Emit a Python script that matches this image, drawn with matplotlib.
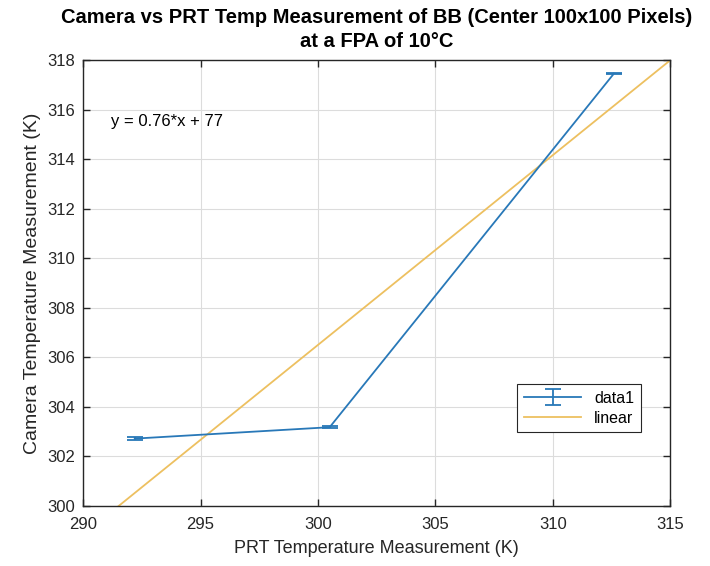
import matplotlib
matplotlib.use("Agg")
import matplotlib.pyplot as plt
import numpy as np

# measured points (PRT vs camera) with small error bars
prt_temp = [292.2, 300.5, 312.6]
cam_temp = [302.72, 303.18, 317.45]
cam_err = [0.05, 0.05, 0.02]

# linear fit as shown on the chart
fit_slope = 0.766
fit_intercept = 76.7
fit_x = [290, 315]

x_ticks = [290, 295, 300, 305, 310, 315]
y_ticks = [300, 302, 304, 306, 308, 310, 312, 314, 316, 318]

plt.rcParams["font.family"] = ["Liberation Sans", "DejaVu Sans"]

fig = plt.figure(figsize=(7.1, 5.66), dpi=100)
ax = fig.add_axes([0.117, 0.106, 0.827, 0.788])

eb = ax.errorbar(prt_temp, cam_temp, yerr=cam_err, color="#2878b8", lw=1.3,
                 capsize=5.5, capthick=1.3, label="data1")
xs = np.array(fit_x, dtype=float)
fit_line, = ax.plot(xs, fit_slope * xs + fit_intercept, color="#edc060",
                    lw=1.3, label="linear")

ax.set_xlim(290, 315)
ax.set_ylim(300, 318)
ax.set_xticks(x_ticks)
ax.set_yticks(y_ticks)
ax.grid(True, color="#dcdcdc", lw=0.8)
ax.tick_params(direction="in", top=True, right=True, labelsize=12,
               length=5, width=1, colors="#262626")
ax.tick_params(axis="x", pad=8)
ax.tick_params(axis="y", pad=6)
for s in ax.spines.values():
    s.set_color("#262626")
    s.set_linewidth(1)

ax.set_xlabel("PRT Temperature Measurement (K)", fontsize=13, color="#262626",
              labelpad=6)
ax.set_ylabel("Camera Temperature Measurement (K)", fontsize=14,
              color="#262626", labelpad=4)
ax.set_title("Camera vs PRT Temp Measurement of BB (Center 100x100 Pixels)\n"
             "at a FPA of 10\u00b0C", fontsize=14.5, fontweight="bold", pad=9,
             linespacing=1.35)

ax.text(291.2, 315.5, "y = 0.76*x + 77", fontsize=12, va="center")

leg = ax.legend([eb, fit_line], ["data1", "linear"], loc="lower right",
                bbox_to_anchor=(0.963, 0.148), fontsize=11.5,
                fancybox=False, framealpha=1, edgecolor="#262626",
                handlelength=3.6, borderpad=0.4, labelspacing=0.3)
leg.get_frame().set_linewidth(0.8)

fig.savefig("out.png", dpi=100)
